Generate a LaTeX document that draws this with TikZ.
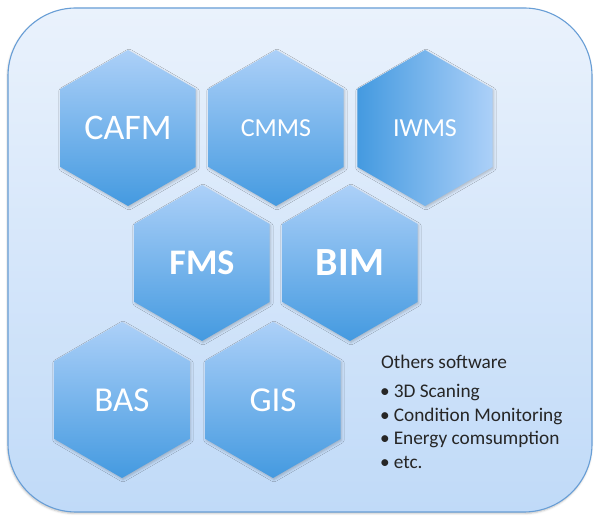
\documentclass[tikz,border=0pt]{standalone}
\usepackage{fontspec}
\setmainfont{Carlito}
\usetikzlibrary{shapes.geometric,shadows.blur}

\definecolor{panelTop}{RGB}{234,242,252}
\definecolor{panelBot}{RGB}{192,218,248}
\definecolor{panelLine}{RGB}{104,158,214}
\definecolor{hexLight}{RGB}{172,208,248}
\definecolor{hexDark}{RGB}{68,154,224}
\definecolor{noteText}{RGB}{38,38,38}

\tikzset{
  x=1pt, y=1pt,
  panel/.style={draw=panelLine, line width=1.1pt, rounded corners=68pt,
    top color=panelTop, bottom color=panelBot,
    blur shadow={shadow xshift=-0.5pt, shadow yshift=-1.5pt,
      shadow blur radius=2pt, shadow opacity=25}},
  hexcell/.style={regular polygon, regular polygon sides=6,
    shape border rotate=30, minimum size=156pt, inner sep=0pt, outer sep=0pt,
    text=white, top color=hexLight, bottom color=hexDark,
    blur shadow={shadow xshift=1pt, shadow yshift=-1.5pt,
      shadow blur radius=2.5pt, shadow opacity=22}},
  sidehex/.style={hexcell, left color=hexDark, right color=hexLight},
  bigtag/.style={font=\fontsize{36}{40}\selectfont},
  smalltag/.style={font=\fontsize{26}{30}\selectfont},
  boldtag/.style={font=\bfseries\fontsize{36}{40}\selectfont},
  note/.style={anchor=base west, inner sep=0pt, text=noteText,
    font=\fontsize{19.3}{23}\selectfont},
}

\begin{document}
\begin{tikzpicture}
  \useasboundingbox (0,0) rectangle (595,516);

  % rounded backdrop panel
  \path[panel] (8,4) rectangle (592,508);

  % top row
  \node[hexcell, bigtag]   (cafm) at (128,388) {CAFM};
  \node[hexcell, smalltag] (cmms) at (276,388) {CMMS};
  \node[sidehex, smalltag] (iwms) at (425,388) {IWMS};

  % middle row
  \node[hexcell, boldtag] (fms) at (202,253) {FMS};
  \node[hexcell, boldtag, font=\bfseries\fontsize{40}{44}\selectfont] (bim) at (350,253) {BIM};

  % bottom row
  \node[hexcell, font=\fontsize{35}{39}\selectfont] (bas) at (122,116) {BAS};
  \node[hexcell, font=\fontsize{35}{39}\selectfont] (gis) at (273,116) {GIS};

  % other software list
  \node[note] (others) at (381,147) {Others software};
  \foreach \entry [count=\i] in {3D Scaning, Condition Monitoring, Energy comsumption, etc.}
    \node[note] (item\i) at (380,141.5-\i*23.4) {\textbullet\hspace{4pt}\entry};
\end{tikzpicture}
\end{document}
